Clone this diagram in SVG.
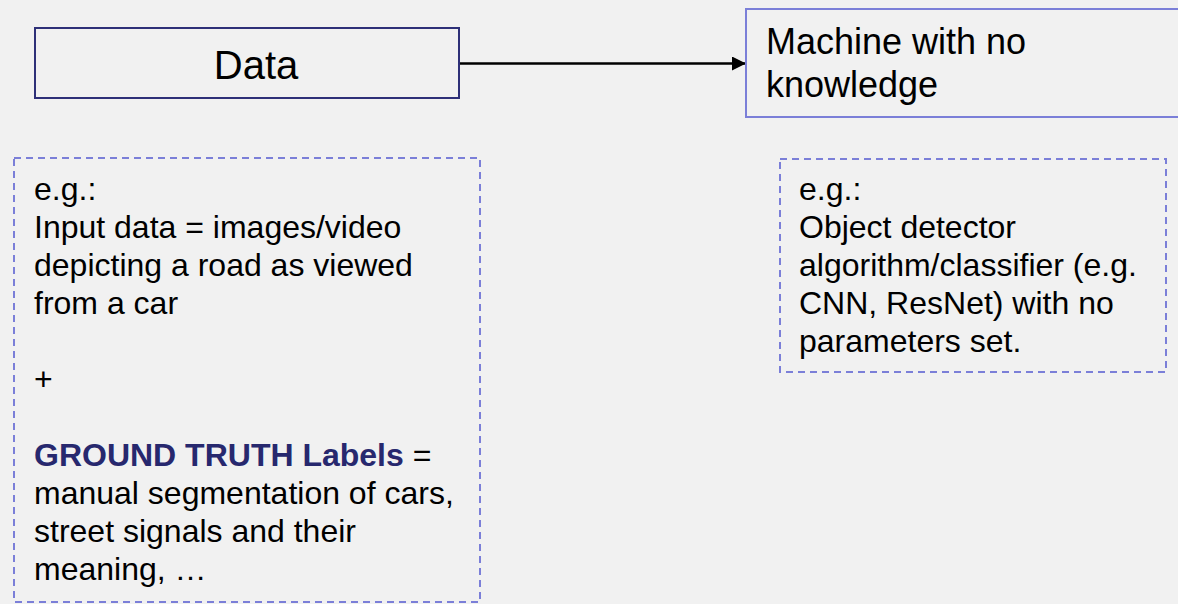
<svg xmlns="http://www.w3.org/2000/svg" width="1178" height="604" viewBox="0 0 1178 604">
  <style>
    text { font-family: "Liberation Sans", Arial, sans-serif; fill: #000; }
    .body { font-size: 32px; }
    .big { font-size: 36px; }
    .title { font-size: 40px; }
    .solid { fill: none; stroke-width: 2; }
    .dash { fill: none; stroke: #7b7fd8; stroke-width: 2; stroke-dasharray: 7 5; }
    .gt { font-weight: bold; fill: #27286e; }
  </style>
  <defs>
    <marker id="arrow" markerWidth="14" markerHeight="14" refX="14" refY="7" orient="auto" markerUnits="userSpaceOnUse">
      <path d="M0,0 L14,7 L0,14 Z" fill="#000"/>
    </marker>
  </defs>
  <rect width="1178" height="604" fill="#f1f1f1"/>

  <g id="connectors">
    <line x1="460" y1="63.5" x2="746" y2="63.5" stroke="#000" stroke-width="2.5" marker-end="url(#arrow)"/>
  </g>

  <g id="node-data">
    <rect class="solid" x="35" y="28" width="424" height="70" stroke="#2e3078"/>
    <text class="title" x="256" y="79" text-anchor="middle">Data</text>
  </g>

  <g id="node-machine">
    <rect class="solid" x="746" y="9" width="450" height="108" stroke="#7b7fd8"/>
    <text class="big" x="766" y="54">Machine with no</text>
    <text class="big" x="766" y="97">knowledge</text>
  </g>

  <g id="node-data-example">
    <rect class="dash" x="14" y="158" width="466" height="444"/>
    <text class="body" x="34" y="200">e.g.:</text>
    <text class="body" x="34" y="238">Input data = images/video</text>
    <text class="body" x="34" y="276">depicting a road as viewed</text>
    <text class="body" x="34" y="314">from a car</text>
    <text class="body" x="34" y="390">+</text>
    <text class="body" x="34" y="466"><tspan class="gt">GROUND TRUTH Labels</tspan> =</text>
    <text class="body" x="34" y="504">manual segmentation of cars,</text>
    <text class="body" x="34" y="542">street signals and their</text>
    <text class="body" x="34" y="580">meaning, …</text>
  </g>

  <g id="node-machine-example">
    <rect class="dash" x="780" y="159" width="386" height="213"/>
    <text class="body" x="799" y="200">e.g.:</text>
    <text class="body" x="799" y="238">Object detector</text>
    <text class="body" x="799" y="276">algorithm/classifier (e.g.</text>
    <text class="body" x="799" y="314">CNN, ResNet) with no</text>
    <text class="body" x="799" y="352">parameters set.</text>
  </g>
</svg>
